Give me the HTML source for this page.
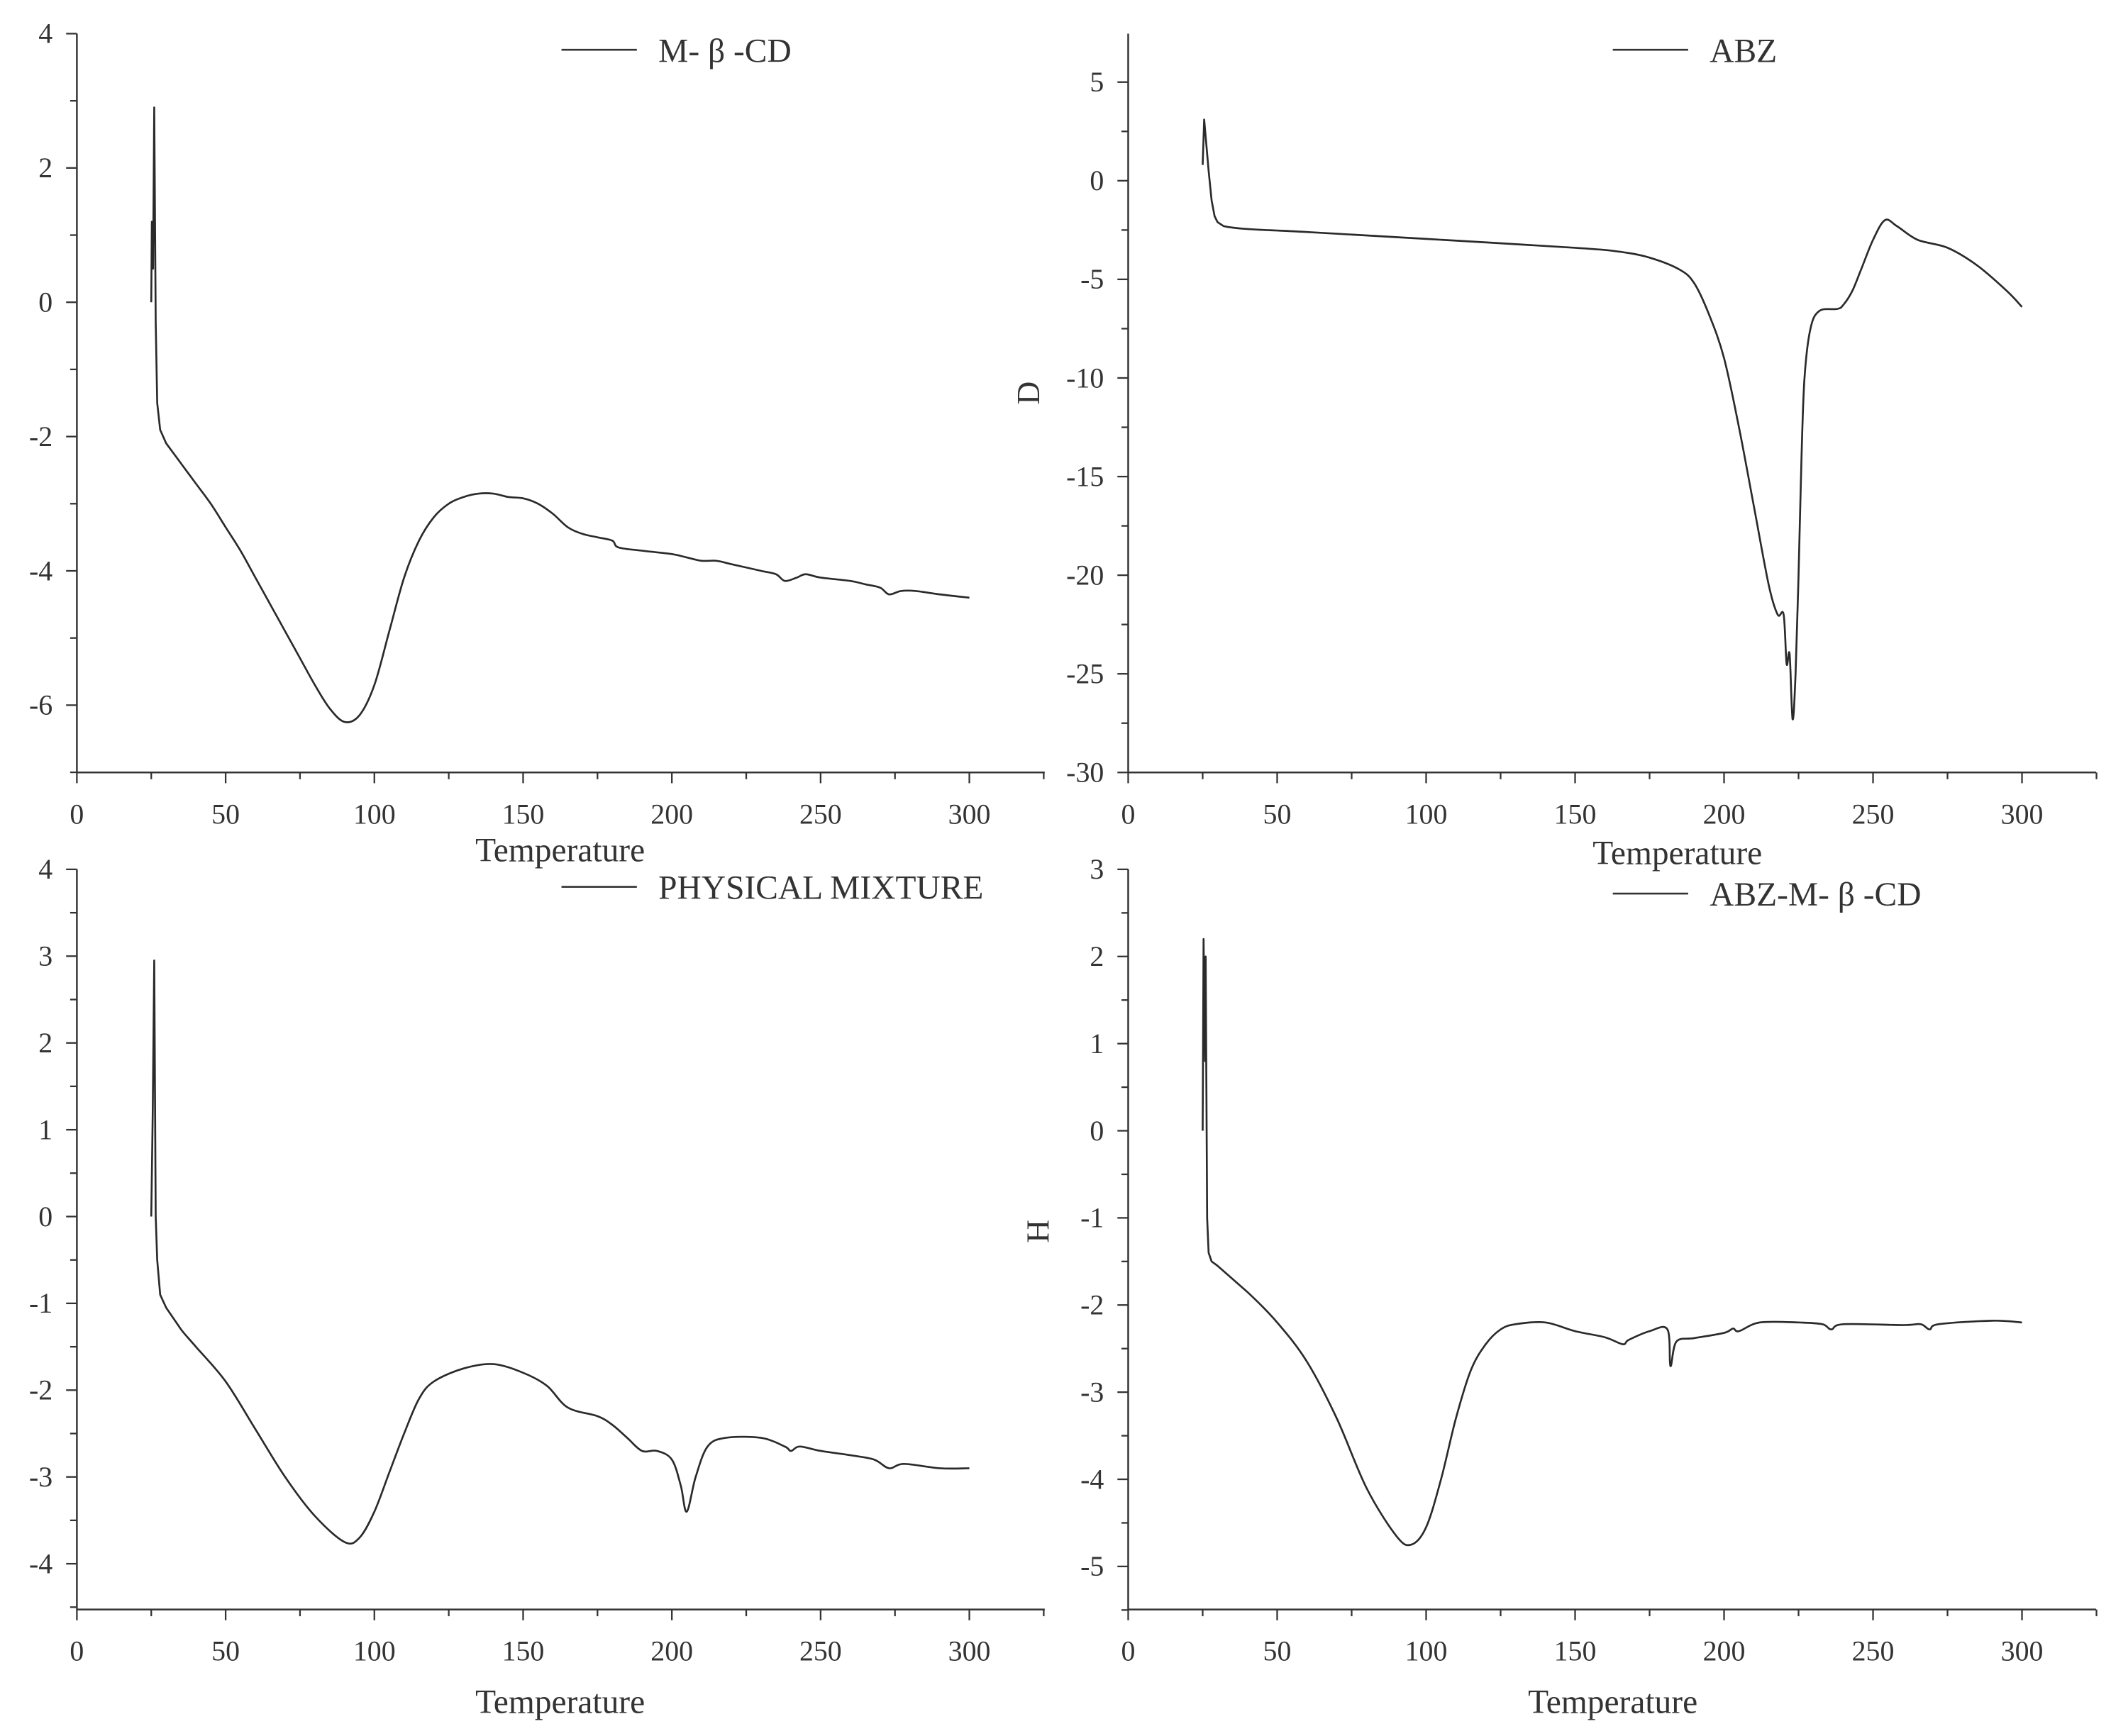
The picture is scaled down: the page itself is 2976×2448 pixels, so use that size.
<!DOCTYPE html>
<html><head><meta charset="utf-8"><style>
html,body{margin:0;padding:0;background:#fff;}
svg{display:block;}
text{font-family:"Liberation Serif","Noto Serif CJK SC",serif;fill:#333;}
</style></head><body>
<svg id="chart" width="2976" height="2448" viewBox="0 0 1568 1290" xmlns="http://www.w3.org/2000/svg"></svg>
<script>
const xTicks = [0,50,100,150,200,250,300];
const t1 = [25,25.2,25.6,26,26.5,27,28,30,35,40,45,50,55,60,65,70,75,80,85,90,95,100,105,110,115,120,125,130,135,140,145,150,155,160,165,170,175,180,182,190,200,205,210,215,220,230,235,238,242,245,250,260,265,270,273,277,282,290,300];
const v1 = [0,1.2,0.5,2.9,-0.3,-1.5,-1.9,-2.1,-2.4,-2.7,-3.0,-3.35,-3.7,-4.1,-4.5,-4.9,-5.3,-5.7,-6.05,-6.25,-6.15,-5.7,-4.9,-4.1,-3.55,-3.2,-3.0,-2.9,-2.85,-2.85,-2.9,-2.92,-3.0,-3.15,-3.35,-3.45,-3.5,-3.55,-3.65,-3.7,-3.75,-3.8,-3.85,-3.85,-3.9,-4.0,-4.05,-4.15,-4.1,-4.05,-4.1,-4.15,-4.2,-4.25,-4.35,-4.3,-4.3,-4.35,-4.4];
const yTicks1 = [4,2,0,-2,-4,-6];
const t2 = [25,25.5,27,28,29,30,32,40,60,100,150,165,175,185,190,195,200,205,210,215,218,220,221,222,223,224,225,226,227,229,232,238,240,243,246,250,254,258,265,275,285,295,300];
const v2 = [0.8,3.1,0.5,-1,-1.8,-2.1,-2.3,-2.45,-2.6,-2.95,-3.4,-3.6,-3.9,-4.5,-5.2,-6.8,-9,-12.5,-16.5,-20.5,-22,-22,-24.5,-24,-27.3,-25,-20,-14,-10,-7.5,-6.6,-6.5,-6.3,-5.6,-4.5,-3,-2.0,-2.3,-3.0,-3.4,-4.3,-5.6,-6.4];
const yTicks2 = [5,0,-5,-10,-15,-20,-25,-30];
const t3 = [25,25.5,26,26.5,27,28,30,35,40,50,60,70,80,90,95,100,105,110,115,120,130,140,150,158,165,175,180,185,190,195,200,203,205,208,212,218,230,238,240,243,250,260,268,273,278,290,300];
const v3 = [0,1.2,2.95,0,-0.5,-0.9,-1.05,-1.3,-1.5,-1.9,-2.45,-3.0,-3.45,-3.75,-3.7,-3.4,-2.95,-2.5,-2.1,-1.9,-1.75,-1.7,-1.8,-1.95,-2.2,-2.3,-2.4,-2.55,-2.7,-2.7,-2.8,-3.1,-3.4,-3.0,-2.65,-2.55,-2.55,-2.65,-2.7,-2.65,-2.7,-2.75,-2.8,-2.9,-2.85,-2.9,-2.9];
const yTicks3 = [4,3,2,1,0,-1,-2,-3,-4];
const t4 = [25,25.3,25.8,26,26.5,27,28,30,40,50,60,70,80,90,95,100,105,110,115,120,125,130,140,150,160,166,168,175,181,182,184,190,200,203,205,212,225,233,236,240,260,266,269,272,290,300];
const v4 = [0,2.2,0.8,2.0,-1,-1.4,-1.5,-1.55,-1.85,-2.2,-2.65,-3.3,-4.1,-4.65,-4.75,-4.55,-4.0,-3.3,-2.75,-2.45,-2.28,-2.22,-2.2,-2.3,-2.37,-2.45,-2.4,-2.3,-2.28,-2.7,-2.42,-2.38,-2.32,-2.27,-2.3,-2.2,-2.2,-2.22,-2.28,-2.22,-2.23,-2.22,-2.28,-2.22,-2.18,-2.2];
const yTicks4 = [3,2,1,0,-1,-2,-3,-4,-5];

const NS = "http://www.w3.org/2000/svg";
const svg = document.getElementById('chart');
function mk(tag, attrs, parent){const e=document.createElementNS(NS,tag);for(const k in attrs)e.setAttribute(k,attrs[k]);(parent||svg).appendChild(e);return e;}

function smoothPath(pts, tArr){
  let d = 'M'+pts[0][0].toFixed(2)+','+pts[0][1].toFixed(2);
  for(let i=1;i<pts.length;i++){
    const p1=pts[i-1], p2=pts[i];
    if(tArr[i-1] < 32 || tArr[i] < 32){ d+=' L'+p2[0].toFixed(2)+','+p2[1].toFixed(2); continue; }
    const p0=pts[i-2]||p1, p3=pts[i+1]||p2;
    const k=1/6;
    const c1=[p1[0]+(p2[0]-p0[0])*k, p1[1]+(p2[1]-p0[1])*k];
    const c2=[p2[0]-(p3[0]-p1[0])*k, p2[1]-(p3[1]-p1[1])*k];
    d+=' C'+c1[0].toFixed(2)+','+c1[1].toFixed(2)+' '+c2[0].toFixed(2)+','+c2[1].toFixed(2)+' '+p2[0].toFixed(2)+','+p2[1].toFixed(2);
  }
  return d;
}

function panel(cfg){
  const g = mk('g',{});
  
  
  const sx = v => cfg.x0 + (v-0)*(cfg.x300-cfg.x0)/300;
  const sy = v => cfg.yA + (cfg.vA - v)*(cfg.yB-cfg.yA)/(cfg.vA-cfg.vB);
  const axisBottom = cfg.axisY, axisTop = cfg.axisTop;
  const ya = mk('line',{x1:cfg.x0,y1:axisTop,x2:cfg.x0,y2:axisBottom,stroke:'#333','stroke-width':1.3},g);
  
  
  const xa = mk('line',{x1:cfg.x0,y1:axisBottom,x2:cfg.xEnd,y2:axisBottom,stroke:'#333','stroke-width':1.3},g);
  
  
  for(let v=0; sx(v)<=cfg.xEnd+0.5; v+=25){
    const major = v%50===0;
    mk('line',{x1:sx(v),y1:axisBottom,x2:sx(v),y2:axisBottom+(major?8:5),stroke:'#333','stroke-width':1.2},g);
  }
  xTicks.forEach(v=>{
    const t = mk('text',{x:sx(v),y:axisBottom+38,'text-anchor':'middle','font-size':21},g);
    t.textContent = v;
    
    
  });
  for(let v=cfg.yMinTick; sy(v)>=axisTop-0.5; v+=cfg.minor){
    const isMajor = Math.abs(Math.round(v/cfg.major)*cfg.major - v) < 1e-6;
    mk('line',{x1:cfg.x0,y1:sy(v),x2:cfg.x0-(isMajor?8:5),y2:sy(v),stroke:'#333','stroke-width':1.2},g);
  }
  cfg.yTicks.forEach(v=>{
    const t = mk('text',{x:cfg.x0-18,y:sy(v)+7,'text-anchor':'end','font-size':21},g);
    t.textContent = v;
    
    
  });
  const xt = mk('text',{x:cfg.titleX,y:cfg.titleY,'text-anchor':'middle','font-size':25},g);
  xt.textContent = 'Temperature';
  
  
  if(cfg.ylabel){
    const yt = mk('text',{x:0,y:0,'text-anchor':'middle','font-size':24,transform:`translate(${cfg.ylx},${cfg.yly}) rotate(-90)`},g);
    yt.textContent = cfg.ylabel;
    
    
  }
  const pts = cfg.t.map((tv,i)=>[sx(tv), sy(cfg.v[i])]);
  const p = mk('path',{d:smoothPath(pts, cfg.t),fill:'none',stroke:'#2a2a2a','stroke-width':1.4,'stroke-linejoin':'round'},g);
  
  
  const ll = mk('line',{x1:cfg.lx,y1:cfg.ly,x2:cfg.lx+56,y2:cfg.ly,stroke:'#333','stroke-width':1.4},g);
  
  
  const lt = mk('text',{x:cfg.lx+72,y:cfg.ly+9,'font-size':25},g);
  lt.textContent = cfg.legend;
  
  
}

panel({name:'panel-m-beta-cd',x0:57,x300:720,xEnd:776,axisY:574,axisTop:25,yA:25,vA:4,yB:524,vB:-6,yMinTick:-7,minor:1,major:2,yTicks:yTicks1,t:t1,v:v1,titleX:416,titleY:640,lx:417,ly:37,legend:'M- β -CD'});
panel({name:'panel-abz',x0:838,x300:1502,xEnd:1557,axisY:574,axisTop:25,yA:61,vA:5,yB:574,vB:-30,yMinTick:-30,minor:2.5,major:5,yTicks:yTicks2,t:t2,v:v2,titleX:1246,titleY:642,ylabel:'D',ylx:772,yly:292,lx:1198,ly:37,legend:'ABZ'});
panel({name:'panel-physical-mixture',x0:57,x300:720,xEnd:776,axisY:1196,axisTop:646,yA:646,vA:4,yB:1162,vB:-4,yMinTick:-4.5,minor:0.5,major:1,yTicks:yTicks3,t:t3,v:v3,titleX:416,titleY:1273,lx:417,ly:659,legend:'PHYSICAL MIXTURE'});
panel({name:'panel-abz-m-beta-cd',x0:838,x300:1502,xEnd:1557,axisY:1196,axisTop:646,yA:646,vA:3,yB:1164,vB:-5,yMinTick:-5.5,minor:0.5,major:1,yTicks:yTicks4,t:t4,v:v4,titleX:1198,titleY:1273,ylabel:'H',ylx:779,yly:915,lx:1198,ly:664,legend:'ABZ-M- β -CD'});
</script>
</body></html>
